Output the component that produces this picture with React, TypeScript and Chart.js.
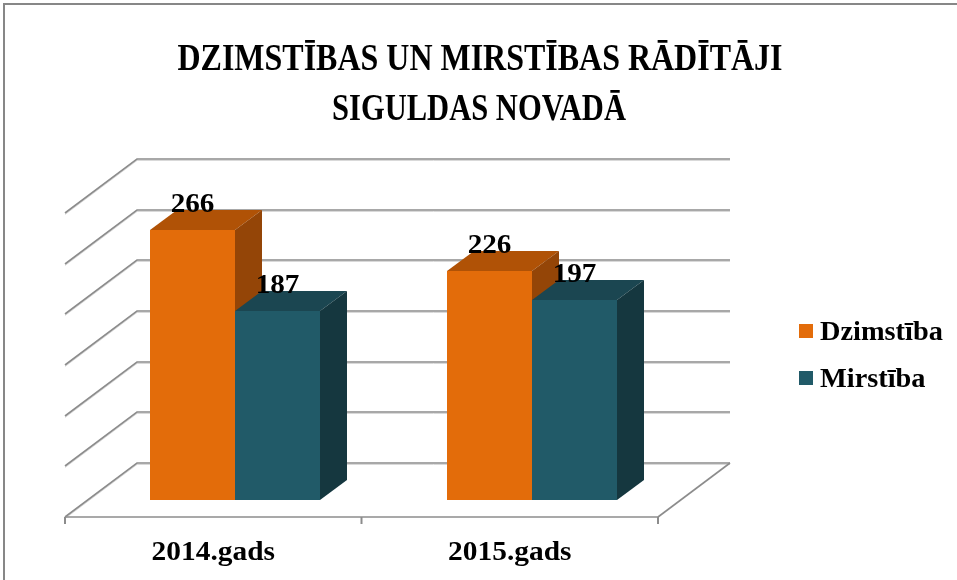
import React, { useEffect, useRef } from "react";
import { Chart, registerables } from "chart.js";

Chart.register(...registerables);

const categories = ["2014.gads", "2015.gads"];
const seriesNames = ["Dzimstība", "Mirstība"];
const birthValues = [266, 226];
const deathValues = [187, 197];
const gridValues = [0, 50, 100, 150, 200, 250, 300];
const titleLines = ["DZIMSTĪBAS UN MIRSTĪBAS RĀDĪTĀJI", "SIGULDAS NOVADĀ"];

const frontColors = ["#E36C0A", "#215A68"];
const topColors = ["#B05206", "#1B4651"];
const sideColors = ["#944507", "#15373F"];

const FONT = '"Liberation Serif", "DejaVu Serif", serif';
// floor depth (back wall -> front edge)
const FDX = 72;
const FDY = 54;
// bar front-plane offset from back wall, and bar depth
const BOX = -50;
const BOY = 37;
const BDX = 27;
const BDY = -20;

function fitText(ctx: CanvasRenderingContext2D, text: string, cx: number, baseline: number, size: number, width: number) {
  ctx.font = `bold ${size}px ${FONT}`;
  const w = ctx.measureText(text).width;
  const sx = width / w;
  ctx.save();
  ctx.translate(cx, baseline);
  ctx.scale(sx, 1);
  ctx.textAlign = "center";
  ctx.textBaseline = "alphabetic";
  ctx.fillStyle = "#000";
  ctx.fillText(text, 0, 0);
  ctx.restore();
}

function line(ctx: CanvasRenderingContext2D, pts: number[][]) {
  ctx.beginPath();
  ctx.moveTo(pts[0][0], pts[0][1]);
  for (let i = 1; i < pts.length; i++) ctx.lineTo(pts[i][0], pts[i][1]);
  ctx.stroke();
}

function poly(ctx: CanvasRenderingContext2D, pts: number[][], color: string) {
  ctx.beginPath();
  ctx.moveTo(pts[0][0], pts[0][1]);
  for (let i = 1; i < pts.length; i++) ctx.lineTo(pts[i][0], pts[i][1]);
  ctx.closePath();
  ctx.fillStyle = color;
  ctx.fill();
}

const chart3dPlugin = {
  id: "chart3d",
  beforeDraw(chart: any) {
    const ctx = chart.ctx as CanvasRenderingContext2D;
    ctx.save();
    ctx.fillStyle = "#fff";
    ctx.fillRect(0, 0, chart.width, chart.height);
    ctx.strokeStyle = "#878787";
    ctx.lineWidth = 2;
    line(ctx, [[4, chart.height], [4, 4], [chart.width, 4]]);
    ctx.restore();
  },
  beforeDatasetsDraw(chart: any) {
    const ctx = chart.ctx as CanvasRenderingContext2D;
    const { left, right, bottom } = chart.chartArea;
    const y = chart.scales.y;
    ctx.save();
    ctx.lineCap = "butt";
    // light shadow under grid lines
    for (const v of gridValues) {
      const py = Math.round(y.getPixelForValue(v));
      ctx.strokeStyle = "#d9d9d9";
      ctx.lineWidth = 1;
      line(ctx, [[left - FDX, py + FDY + 1.5], [left, py + 1.5], [right, py + 1.5]]);
      ctx.strokeStyle = "#8c8c8c";
      ctx.lineWidth = 1.6;
      line(ctx, [[left - FDX, py + FDY], [left, py], [right, py]]);
    }
    // floor front edge and right edge
    const fb = Math.round(bottom) + FDY;
    ctx.strokeStyle = "#8c8c8c";
    ctx.lineWidth = 1.6;
    line(ctx, [[right, Math.round(bottom)], [right - FDX, fb]]);
    line(ctx, [[left - FDX, fb], [right - FDX, fb]]);
    ctx.lineWidth = 2;
    const n = categories.length;
    for (let i = 0; i <= n; i++) {
      const tx = left + (i * (right - left)) / n - FDX;
      line(ctx, [[tx, fb], [tx, fb + 7]]);
    }
    ctx.restore();
    return false;
  },
  afterDraw(chart: any) {
    const ctx = chart.ctx as CanvasRenderingContext2D;
    const { left, right, bottom } = chart.chartArea;
    const xs = chart.scales.x;
    ctx.save();
    // 3D bars
    const labels: { x: number; y: number; t: string }[] = [];
    for (let i = 0; i < categories.length; i++) {
      for (let d = 0; d < chart.data.datasets.length; d++) {
        const el = chart.getDatasetMeta(d).data[i] as any;
        const l = Math.round(el.x - el.width / 2 + BOX);
        const r = Math.round(el.x + el.width / 2 + BOX);
        const t = Math.round(el.y + BOY);
        const b = Math.round(el.base + BOY);
        ctx.fillStyle = frontColors[d];
        ctx.fillRect(l, t, r - l, b - t);
        poly(ctx, [[l, t], [l + BDX, t + BDY], [r + BDX, t + BDY], [r, t]], topColors[d]);
        poly(ctx, [[r, t], [r + BDX, t + BDY], [r + BDX, b + BDY], [r, b]], sideColors[d]);
        labels.push({ x: (l + r) / 2, y: t + BDY + 2, t: String(chart.data.datasets[d].data[i]) });
      }
    }
    // data labels
    ctx.fillStyle = "#000";
    ctx.textAlign = "center";
    ctx.textBaseline = "alphabetic";
    ctx.font = `bold 27px ${FONT}`;
    for (const lb of labels) {
      ctx.save();
      ctx.translate(lb.x, lb.y);
      ctx.scale(1.08, 1);
      ctx.fillText(lb.t, 0, 0);
      ctx.restore();
    }
    // category labels
    ctx.font = `bold 28px ${FONT}`;
    for (let i = 0; i < categories.length; i++) {
      const cx = xs.getPixelForValue(i) - FDX;
      ctx.save();
      ctx.translate(cx, Math.round(bottom) + FDY + 43);
      ctx.scale(1.05, 1);
      ctx.fillText(categories[i], 0, 0);
      ctx.restore();
    }
    // title
    fitText(ctx, titleLines[0], 480, 70, 38, 605);
    fitText(ctx, titleLines[1], 479, 120, 38, 294);
    // legend
    const lx = right + 69;
    const ly = [324, 371];
    ctx.font = `bold 27px ${FONT}`;
    ctx.textAlign = "left";
    for (let d = 0; d < seriesNames.length; d++) {
      ctx.fillStyle = frontColors[d];
      ctx.fillRect(lx, ly[d], 14, 14);
      ctx.fillStyle = "#000";
      ctx.save();
      ctx.translate(lx + 21, ly[d] + 16);
      ctx.scale(1.05, 1);
      ctx.fillText(seriesNames[d], 0, 0);
      ctx.restore();
    }
    ctx.restore();
  },
};

export default function App() {
  const ref = useRef<HTMLCanvasElement | null>(null);
  useEffect(() => {
    if (!ref.current) return;
    const chart = new Chart(ref.current, {
      type: "bar",
      data: {
        labels: categories,
        datasets: [
          { label: seriesNames[0], data: birthValues, backgroundColor: frontColors[0] },
          { label: seriesNames[1], data: deathValues, backgroundColor: frontColors[1] },
        ],
      },
      options: {
        animation: false,
        responsive: true,
        maintainAspectRatio: false,
        layout: { padding: { left: 137, right: 227, top: 159, bottom: 117 } },
        datasets: { bar: { categoryPercentage: 0.574, barPercentage: 1 } },
        scales: {
          x: { display: false },
          y: { display: false, min: 0, max: 300, ticks: { stepSize: 50 } },
        },
        plugins: {
          legend: { display: false },
          title: { display: false },
          tooltip: { enabled: false },
        },
      },
      plugins: [chart3dPlugin],
    });
    return () => chart.destroy();
  }, []);
  return (
    <div style={{ position: "fixed", left: 0, top: 0, width: 957, height: 580, background: "#fff" }}>
      <canvas ref={ref} />
    </div>
  );
}
